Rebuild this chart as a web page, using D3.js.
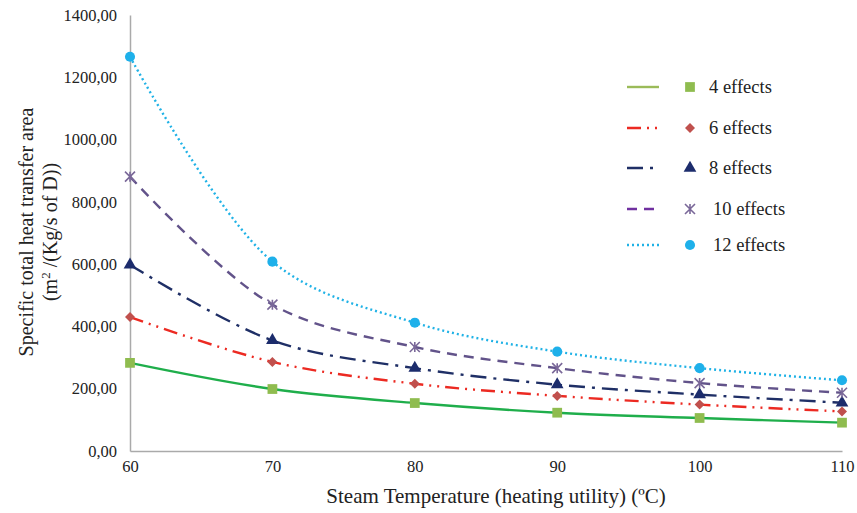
<!DOCTYPE html>
<html lang="en">
<head>
<meta charset="utf-8" />
<title>heat transfer area chart</title>
<script src="https://d3js.org/d3.v7.min.js"></script>
<style>
  html, body { margin: 0; padding: 0; background: #fff; }
  svg text { font-family: "Liberation Serif", "Times New Roman", serif; fill: #222; }
</style>
</head>
<body>
<div id="chart"></div>
<script>
// steam temperatures (x axis)
var temps = [60, 70, 80, 90, 100, 110];
var yTicks = [0, 200, 400, 600, 800, 1000, 1200, 1400];

// specific area per number of effects
var effects4  = [283, 199, 154, 123, 106, 91];
var effects6  = [430, 286, 216, 177, 149, 127];
var effects8  = [598, 355, 266, 213, 181, 155];
var effects10 = [881, 470, 334, 266, 218, 187];
var effects12 = [1266, 608, 412, 319, 266, 227];

var seriesNames = ["4 effects", "6 effects", "8 effects", "10 effects", "12 effects"];

// styles kept apart from the data
var styles = [
  { line: "#1fae4b", legendLine: "#9bbb59", marker: "#8fbc4f", dash: null, shape: d3.symbolSquare, size: 95, rot: 0 },
  { line: "#ec2a22", legendLine: "#ec2a22", marker: "#c0504d", dash: "14,6,2,6,2,6", shape: d3.symbolSquare, size: 50, rot: 45 },
  { line: "#1f2f66", legendLine: "#1f2f66", marker: "#1c2c6c", dash: "16,7,3,7", shape: d3.symbolTriangle, size: 70, rot: 0 },
  { line: "#62538a", legendLine: "#7030a0", marker: "#7a6899", dash: "10,7", shape: null, size: 0, rot: 0 },
  { line: "#20b2e6", legendLine: "#20b2e6", marker: "#1eb0ea", dash: "2,3", shape: d3.symbolCircle, size: 80, rot: 0 }
];

var allSeries = [effects4, effects6, effects8, effects10, effects12];

var width = 857, height = 513;
var mLeft = 130, mRight = 842, mTop = 15, mBottom = 451;

var svg = d3.select("#chart").append("svg")
  .attr("width", width)
  .attr("height", height);

var x = d3.scaleLinear().domain([60, 110]).range([mLeft, mRight]);
var y = d3.scaleLinear().domain([0, 1400]).range([mBottom, mTop]);

var fmt = function(v){ return d3.format(".2f")(v).replace(".", ","); };

// y axis
var yAxis = svg.append("g")
  .attr("transform", "translate(" + mLeft + ",0)")
  .call(d3.axisLeft(y).tickValues(yTicks).tickSize(0).tickPadding(13).tickFormat(fmt));
yAxis.select(".domain").attr("stroke", "#aaa").attr("stroke-width", 1.5);
yAxis.selectAll("text").style("font-size", "16.5px").style("font-family", "Liberation Serif").style("fill", "#222");

// x axis
var xAxis = svg.append("g")
  .attr("transform", "translate(0," + mBottom + ")")
  .call(d3.axisBottom(x).tickValues(temps).tickSize(0).tickPadding(9).tickFormat(d3.format("d")));
xAxis.select(".domain").attr("stroke", "#aaa").attr("stroke-width", 1.5);
xAxis.selectAll("text").style("font-size", "16.5px").style("font-family", "Liberation Serif").style("fill", "#222");

// axis titles
svg.append("text")
  .attr("x", 496).attr("y", 503)
  .attr("text-anchor", "middle")
  .style("font-size", "21px")
  .text("Steam Temperature (heating utility) (ºC)");

var yTitle = svg.append("text")
  .attr("transform", "translate(33,232) rotate(-90)")
  .attr("text-anchor", "middle")
  .style("font-size", "20px");
yTitle.append("tspan").attr("x", 0).attr("dy", 0).text("Specific total heat transfer area");
var yTitle2 = svg.append("text")
  .attr("transform", "translate(57,232) rotate(-90)")
  .attr("text-anchor", "middle")
  .style("font-size", "20px");
yTitle2.append("tspan").text("(m");
yTitle2.append("tspan").attr("dy", -7).style("font-size", "13px").text("2");
yTitle2.append("tspan").attr("dy", 7).text(" /(Kg/s of D))");

// lines
var line = d3.line()
  .x(function(d, i){ return x(temps[i]); })
  .y(function(d){ return y(d); })
  .curve(d3.curveCatmullRom.alpha(0.5));

function drawMarker(g, s, px, py) {
  if (s.shape) {
    g.append("path")
      .attr("d", d3.symbol().type(s.shape).size(s.size)())
      .attr("transform", "translate(" + px + "," + py + ") rotate(" + s.rot + ")")
      .attr("fill", s.marker);
  } else {
    // star-like cross marker
    var r = 5;
    var p = "M" + (-r) + "," + (-r) + "L" + r + "," + r + "M" + (-r) + "," + r + "L" + r + "," + (-r) + "M0," + (-r) + "L0," + r;
    g.append("path")
      .attr("d", p)
      .attr("transform", "translate(" + px + "," + py + ")")
      .attr("stroke", s.marker)
      .attr("stroke-width", 1.6)
      .attr("fill", "none");
  }
}

allSeries.forEach(function(vals, k){
  var s = styles[k];
  svg.append("path")
    .datum(vals)
    .attr("d", line)
    .attr("fill", "none")
    .attr("stroke", s.line)
    .attr("stroke-width", 2.4)
    .attr("stroke-dasharray", s.dash);
  var g = svg.append("g");
  vals.forEach(function(v, i){
    drawMarker(g, s, x(temps[i]), y(v));
  });
});

// legend
var legendY = [87, 128, 168, 209, 245];
seriesNames.forEach(function(name, k){
  var s = styles[k];
  var ly = legendY[k];
  svg.append("line")
    .attr("x1", 627).attr("x2", 659)
    .attr("y1", ly).attr("y2", ly)
    .attr("stroke", s.legendLine)
    .attr("stroke-width", 2.4)
    .attr("stroke-dasharray", s.dash);
  drawMarker(svg, s, 690, ly);
  svg.append("text")
    .attr("x", k >= 3 ? 713 : 709).attr("y", ly + 6)
    .style("font-size", "18.5px")
    .text(name);
});
</script>
</body>
</html>
